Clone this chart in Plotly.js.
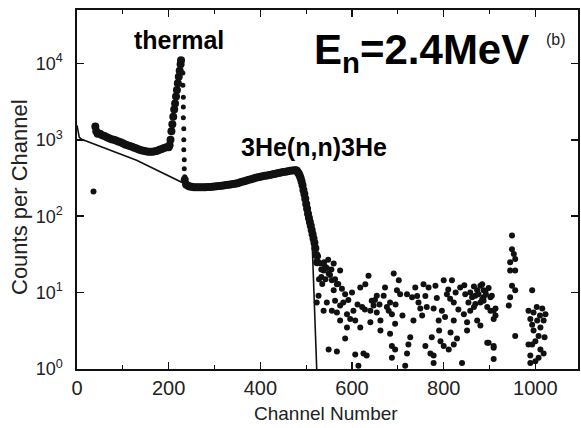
<!DOCTYPE html>
<html>
<head>
<meta charset="utf-8">
<script src="https://cdn.plot.ly/plotly-3.0.1.min.js"></script>
<style>html,body{margin:0;padding:0;background:#fff;}#chart{width:581px;height:428px;}</style>
</head>
<body>
<div id="chart"></div>
<script>
// ---- Data ----
// Thermal-neutron peak region: channel / counts per channel
const thermalChannels = [40, 42, 45, 50, 55, 60, 65, 70, 75, 80, 85, 90, 95, 100, 105, 110, 115, 120, 125, 130, 135, 140, 145, 150, 155, 160, 165, 170, 175, 180, 185, 190, 195, 200, 202, 204, 206, 208, 210, 212, 214, 216, 218, 220, 222, 224, 226, 227];
const thermalCounts   = [1500, 1300, 1200, 1200, 1150, 1120, 1080, 1050, 1020, 1000, 980, 950, 930, 900, 870, 850, 830, 810, 790, 770, 750, 730, 720, 710, 700, 700, 700, 710, 720, 740, 760, 780, 800, 800, 850, 1000, 1300, 1600, 2000, 2500, 3000, 3700, 4500, 5500, 6700, 8000, 9800, 11000];

// Falling edge just after the thermal peak (dotted column)
const edgeChannels = [231, 231, 232, 232, 232, 233, 233, 233, 234, 234, 235];
const edgeCounts   = [7500, 5200, 3600, 2700, 1950, 1400, 1000, 740, 550, 420, 330];

// 3He(n,n)3He elastic plateau and its falling edge
const plateauChannels = [235, 238, 242, 246, 250, 255, 260, 265, 270, 275, 280, 285, 290, 295, 300, 305, 310, 315, 320, 325, 330, 335, 340, 345, 350, 355, 360, 365, 370, 375, 380, 385, 390, 395, 400, 405, 410, 415, 420, 425, 430, 435, 440, 445, 450, 455, 460, 465, 470, 475, 478, 480, 482, 484, 486, 488, 490, 492, 494, 496, 498, 500, 502, 504, 506, 508, 510, 512, 514, 516, 518, 520, 522, 524];
const plateauCounts   = [300, 260, 250, 245, 243, 240, 240, 240, 240, 240, 240, 241, 242, 243, 245, 247, 249, 251, 253, 256, 258, 261, 264, 267, 270, 276, 282, 288, 294, 300, 306, 312, 318, 324, 330, 334, 338, 342, 346, 352, 358, 363, 368, 373, 378, 383, 388, 393, 398, 400, 400, 390, 375, 360, 340, 315, 285, 255, 220, 195, 170, 145, 125, 108, 95, 84, 75, 66, 58, 51, 45, 38, 31, 25];

// Scattered high-channel counts
const tailChannels = [36,
  526, 531, 533, 539, 538, 542, 545, 552, 560, 549, 556, 574, 567, 578, 560, 528, 535, 527, 523, 538, 545, 563, 574, 556, 567, 581, 589, 603, 596, 607, 618, 589, 585, 574, 549, 567, 607, 625, 632, 614,
  618, 629, 636, 643, 640, 647, 622, 640, 662, 654, 669, 672, 683, 680, 687, 662, 683, 687, 694, 687, 691, 702, 698, 705, 694, 676, 654,
  720, 731, 738, 745, 756, 767, 782, 800, 818, 807, 814, 822, 763, 778, 749, 753, 734, 796, 803, 789, 822, 836, 847, 858, 869, 880, 887, 869, 880, 902, 895, 858, 844, 851, 873, 880, 913, 913, 851, 829, 822, 811, 800, 793, 774, 760, 771, 778, 727, 723, 720, 716, 778, 840, 898, 909, 862, 887, 873, 854,
  949, 949, 953, 956, 945, 945, 956, 949, 956, 945, 942, 956, 993, 884, 891, 905, 887, 902, 909, 909, 895, 909, 909,
  985, 996, 1015, 1022, 989, 1004, 1018, 1011, 996, 1007, 1000, 985, 993, 1011, 1018, 989, 1007, 989, 1000,
  541, 548, 555, 533, 563, 570, 585, 592, 600, 612, 628, 650, 660, 695, 710, 742, 760, 785, 810, 826, 845, 866, 876, 892, 898, 884, 866, 832, 790, 815, 1003, 1010, 993, 1020];
const tailCounts = [210,
  30, 24, 20, 25, 19.5, 15, 21, 17, 24, 17.8, 14.5, 19.5, 12.9, 11.2, 10.7, 15, 13, 9.1, 7.4, 5.8, 7.4, 7.8, 6.8, 5.8, 5.5, 7.4, 5.2, 5.8, 4.5, 4.3, 3.5, 3.5, 2.5, 4.3, 1.8, 1.7, 1.55, 1.6, 1.5, 1.1,
  11.7, 12.9, 16.6, 7.8, 5.8, 6.8, 6.5, 4.1, 4.3, 5.5, 9.1, 11.7, 7.4, 5.8, 5.2, 3.2, 2.9, 2.0, 1.8, 1.4, 17.8, 14.5, 10.7, 9.5, 3.9, 6.5, 9.1,
  9.5, 8.7, 11.7, 7.4, 12.9, 11.7, 12.3, 14.5, 14.5, 9.5, 8.3, 7.4, 6.5, 6.2, 6.2, 5.0, 4.3, 5.8, 4.8, 4.3, 4.3, 11.7, 9.5, 10, 9.1, 12.3, 10.7, 7.1, 7.4, 8.7, 6.5, 5.8, 5.2, 4.1, 4.3, 3.7, 6.2, 5.0, 3.2, 2.5, 2.1, 1.8, 2.0, 2.3, 2.6, 2.0, 1.6, 1.5, 2.6, 2.1, 1.6, 1.1, 1.2, 1.2, 2.2, 1.9, 8.7, 8.7, 10.7, 7.4,
  56, 37, 32, 27.5, 25, 19.5, 19.5, 12.3, 10.7, 8.7, 6.8, 2.7, 10.7, 12.9, 10.5, 9.1, 7.8, 5.8, 5.8, 4.5, 2.2, 2.0, 1.35,
  5.8, 5.5, 6.2, 5.2, 4.5, 4.3, 4.3, 3.5, 3.2, 2.7, 2.3, 2.1, 2.1, 1.8, 1.6, 1.5, 1.4, 1.2, 1.26,
  22, 27, 20, 16, 15, 13, 9.5, 8, 10, 7, 6, 8, 7, 7, 5, 9, 9, 8.5, 11, 10, 12.5, 12, 9.5, 9.5, 11.5, 8.2, 6.5, 6, 3.2, 3, 6.5, 5, 3.8, 2.6];

// Background (fit) curve
const fitChannels = [0, 2, 5, 10, 130, 236, 240, 300, 350, 400, 450, 475, 485, 495, 505, 512, 523];
const fitCounts   = [1550, 1250, 1080, 1020, 540, 265, 250, 240, 262, 320, 370, 395, 340, 210, 100, 66, 1];

// Axis ticks
const yTickVals = [1, 10, 100, 1000, 10000];
const yTickText = ['10<sup>0</sup>\u2002', '10<sup>1</sup>\u2002', '10<sup>2</sup>\u2002', '10<sup>3</sup>\u2002', '10<sup>4</sup>\u2002'];

// ---- Plot ----
const FONT = 'Liberation Sans, Arial, Helvetica, sans-serif';
const INK = '#111';
const L = 77, R = 3, T = 10, B = 59, W = 581, H = 428;
const pw = W - L - R, ph = H - T - B;
const px = x => (x - L) / pw;
const py = y => (H - B - y) / ph;

const traces = [
  {x: fitChannels, y: fitCounts, mode: 'lines', line: {color: INK, width: 1.6}, hoverinfo: 'skip'},
  {x: thermalChannels, y: thermalCounts, mode: 'markers', marker: {color: INK, size: 8}},
  {x: edgeChannels, y: edgeCounts, mode: 'markers', marker: {color: INK, size: 5}},
  {x: plateauChannels, y: plateauCounts, mode: 'markers', marker: {color: INK, size: 8}},
  {x: tailChannels, y: tailCounts, mode: 'markers', marker: {color: INK, size: 6}}
];

const layout = {
  width: W, height: H,
  margin: {l: L, r: R, t: T, b: B},
  paper_bgcolor: '#fff', plot_bgcolor: '#fff',
  showlegend: false,
  font: {family: FONT, color: INK},
  xaxis: {
    range: [0, 1093], tick0: 0, dtick: 200,
    ticks: 'inside', ticklen: 7, tickwidth: 1.5, tickcolor: INK,
    minor: {dtick: 100, ticks: 'inside', ticklen: 4, tickwidth: 1.2, tickcolor: INK},
    showline: true, linecolor: INK, linewidth: 1.6, mirror: 'ticks',
    showgrid: false, zeroline: false,
    tickfont: {size: 20, family: FONT, color: '#222'}
  },
  yaxis: {
    type: 'log', range: [0, 4.70],
    tickvals: yTickVals, ticktext: yTickText,
    ticks: 'inside', ticklen: 7, tickwidth: 1.5, tickcolor: INK,
    showline: true, linecolor: INK, linewidth: 1.6, mirror: 'ticks',
    showgrid: false, zeroline: false,
    tickfont: {size: 18, family: FONT, color: '#222'}
  },
  annotations: [
    {text: 'thermal', xref: 'paper', yref: 'paper', x: px(178.5), y: py(40), showarrow: false,
     xanchor: 'center', yanchor: 'middle', font: {size: 25, family: FONT, color: '#000', weight: 'bold'}},
    {text: 'E<sub>n</sub>=2.4MeV', xref: 'paper', yref: 'paper', x: px(421.5), y: py(53), showarrow: false,
     xanchor: 'center', yanchor: 'middle', font: {size: 42, family: FONT, color: '#000', weight: 'bold'}},
    {text: '(b)', xref: 'paper', yref: 'paper', x: px(556), y: py(40), showarrow: false,
     xanchor: 'center', yanchor: 'middle', font: {size: 16, family: FONT, color: '#222'}},
    {text: '3He(n,n)3He', xref: 'paper', yref: 'paper', x: px(313.5), y: py(147), showarrow: false,
     xanchor: 'center', yanchor: 'middle', font: {size: 25, family: FONT, color: '#000', weight: 'bold'}},
    {text: 'Counts per Channel', xref: 'paper', yref: 'paper', x: px(19), y: py(197), showarrow: false,
     textangle: -90, xanchor: 'center', yanchor: 'middle', font: {size: 22, family: FONT, color: '#222'}},
    {text: 'Channel Number', xref: 'paper', yref: 'paper', x: px(326), y: py(414), showarrow: false,
     xanchor: 'center', yanchor: 'middle', font: {size: 19, family: FONT, color: '#222'}}
  ]
};

Plotly.newPlot('chart', traces, layout, {staticPlot: true, displayModeBar: false});
</script>
</body>
</html>
